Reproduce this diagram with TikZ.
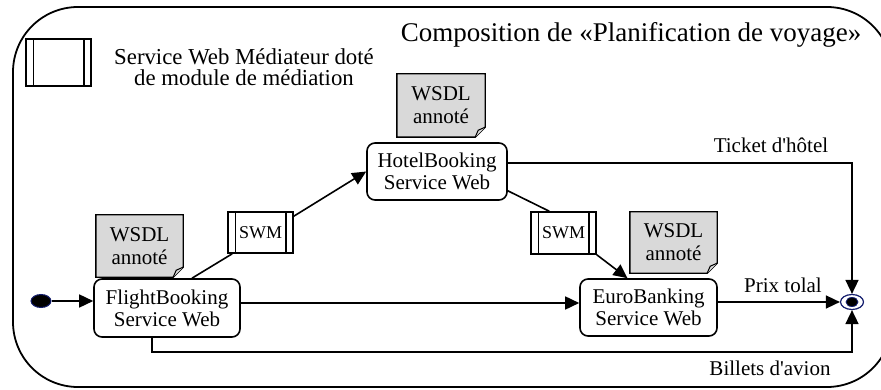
\documentclass[tikz,border=0pt]{standalone}
\usepackage{fontspec}
\setmainfont{Liberation Serif}
\usetikzlibrary{arrows.meta,shapes.geometric,backgrounds,calc}

\definecolor{notegray}{RGB}{217,217,217}
\definecolor{navy}{RGB}{20,30,110}

\newcommand\mainsz{\fontsize{21}{22}\selectfont}
\newcommand\notesz{\fontsize{21}{23}\selectfont}
\newcommand\titlesz{\fontsize{27}{29}\selectfont}
\newcommand\legendsz{\fontsize{22.8}{21.5}\selectfont}
\newcommand\swmsz{\fontsize{18}{20}\selectfont}

% grey annotation sheet with a curled bottom-right corner
\newcommand\notepaper[1]{%
  \begin{scope}[on background layer]
    \filldraw[fill=notegray, line width=1.4pt, line join=miter]
      (#1.north west) -- (#1.north east) -- ([yshift=10pt]#1.south east)
      -- ([xshift=-10pt]#1.south east) -- (#1.south west) -- cycle;
    \filldraw[fill=notegray, line width=1pt, line join=miter]
      ([xshift=-10pt]#1.south east) -- ([xshift=-7pt,yshift=7pt]#1.south east)
      -- ([yshift=10pt]#1.south east);
  \end{scope}}

% the two vertical bars of a mediator box
\newcommand\swmbars[1]{%
  \draw[line width=1.4pt]
    ([xshift=8pt]#1.north west) -- ([xshift=8pt]#1.south west)
    ([xshift=-8pt]#1.north east) -- ([xshift=-8pt]#1.south east);}

\tikzset{
  svc/.style={draw, rounded corners=8pt, line width=1.6pt, align=center,
    font=\mainsz, inner sep=0pt},
  notebox/.style={align=center, font=\notesz, inner sep=0pt},
  swmbox/.style={draw, line width=1.6pt, font=\swmsz, inner sep=0pt,
    minimum width=65pt, minimum height=41pt},
  lbl/.style={font=\mainsz, inner sep=0pt, anchor=base},
  link/.style={line width=1.6pt},
  arr/.style={line width=1.6pt, -{Triangle[length=14pt,width=13pt]}},
}

\begin{document}
\begin{tikzpicture}[x=1pt, y=-1pt]
\useasboundingbox (0,0) rectangle (881,390);

% outer composition frame
\begin{scope}
  \clip (0,0) rectangle (881,390);
  \draw[line width=1.8pt, rounded corners=65pt] (13,7) rectangle (892,387);
\end{scope}

% legend
\node[swmbox, minimum width=65pt, minimum height=47pt] (legend) at (58.5,62.5) {};
\swmbars{legend}
\node[font=\legendsz, align=center, inner sep=0pt, anchor=west] (legendtext) at (114,67)
  {Service Web Médiateur doté\\de module de médiation};

% title
\node[font=\titlesz, inner sep=0pt, anchor=base] (title) at (631,42)
  {Composition de «Planification de voyage»};

% services
\node[svc, minimum width=140pt, minimum height=57pt] (hotel) at (437,171.5)
  {HotelBooking\\Service Web};
\node[svc, minimum width=146pt, minimum height=58pt] (flight) at (167,308)
  {FlightBooking\\Service Web};
\node[svc, minimum width=137pt, minimum height=57pt] (euro) at (648.5,307.5)
  {EuroBanking\\Service Web};

% annotated WSDL sheets
\node[notebox, minimum width=88pt, minimum height=63pt] (hotelnote) at (441,105.5)
  {WSDL\\annoté};
\notepaper{hotelnote}
\node[notebox, minimum width=87pt, minimum height=62pt] (flightnote) at (139.5,246)
  {WSDL\\annoté};
\notepaper{flightnote}
\node[notebox, minimum width=87pt, minimum height=61pt] (euronote) at (673.5,242.5)
  {WSDL\\annoté};
\notepaper{euronote}

% mediators
\node[swmbox] (swmA) at (260.5,232.5) {SWM};
\swmbars{swmA}
\node[swmbox, minimum height=42pt] (swmB) at (563.5,233) {SWM};
\swmbars{swmB}

% initial and final states
\node[ellipse, fill=black, draw=navy, line width=1pt, minimum width=20pt,
  minimum height=13pt, inner sep=0pt] (start) at (41,301) {};
\node[ellipse, draw=navy, line width=1.2pt, minimum width=23pt,
  minimum height=15pt, inner sep=0pt] (end) at (852,302) {};
\node[ellipse, fill=black, draw=navy, line width=0.8pt, minimum width=12pt,
  minimum height=9pt, inner sep=0pt] (endcore) at (end) {};

% connectors
\draw[arr] (start.east) -- (start.east -| flight.west);
\draw[link] ([xshift=25pt]flight.north) -- ([xshift=5pt]swmA.south west);
\draw[arr] ([yshift=-5pt]swmA.north east) -- (hotel.west);
\draw[link] ([yshift=10pt]hotel.south east) -- ([xshift=19pt]swmB.north west);
\draw[arr] (swmB.south east) -- ([xshift=-21pt]euro.north);
\coordinate (fe) at ([yshift=5pt]flight.east);
\draw[arr] (fe) -- (fe -| euro.west);
\draw[arr] (end.west -| euro.east) -- (end.west);
\draw[arr] ([yshift=8.5pt]hotel.east) -| (end.north);
\path (end) ++(0,50) coordinate (avionturn);
\draw[arr] ([xshift=-15pt]flight.south) |- (avionturn) -- (end.south);

% flow labels
\node[lbl] (ticket) at (771,153) {Ticket d\textquotesingle hôtel};
\node[lbl] (prix) at (783,292) {Prix tolal};
\node[lbl] (billets) at (770,375) {Billets d\textquotesingle avion};
\end{tikzpicture}
\end{document}
